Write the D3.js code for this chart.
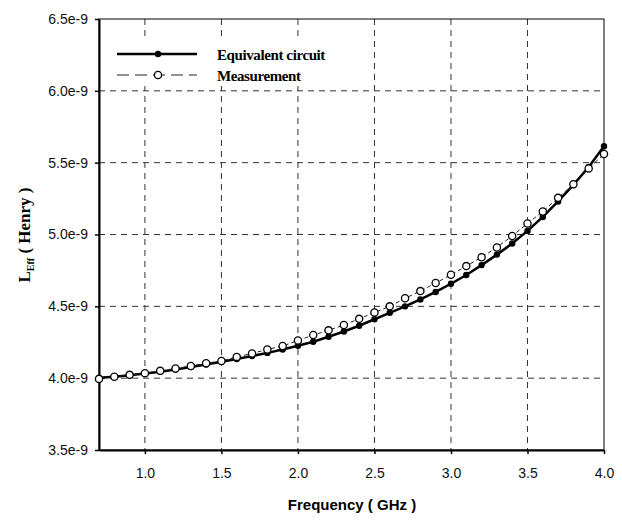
<!DOCTYPE html>
<html>
<head>
<meta charset="utf-8">
<script src="https://cdn.jsdelivr.net/npm/d3@7"></script>
<style>
  html, body { margin: 0; padding: 0; background: #fff; }
  svg { display: block; }
</style>
</head>
<body>
<svg id="chart" width="622" height="521"></svg>
<script>
// ---- data ----
const frequency = [0.7,0.8,0.9,1.0,1.1,1.2,1.3,1.4,1.5,1.6,1.7,1.8,1.9,2.0,2.1,2.2,2.3,2.4,2.5,2.6,2.7,2.8,2.9,3.0,3.1,3.2,3.3,3.4,3.5,3.6,3.7,3.8,3.9,4.0];
// values in units of 1e-9 H
const equivalentCircuit = [4.003,4.010,4.020,4.032,4.045,4.060,4.077,4.095,4.114,4.133,4.154,4.176,4.200,4.226,4.254,4.288,4.325,4.365,4.410,4.455,4.500,4.548,4.600,4.657,4.718,4.787,4.860,4.937,5.025,5.122,5.230,5.345,5.470,5.615];
const measurement = [3.995,4.010,4.023,4.035,4.051,4.067,4.085,4.104,4.120,4.148,4.172,4.200,4.224,4.262,4.300,4.333,4.370,4.413,4.457,4.500,4.556,4.606,4.662,4.720,4.780,4.842,4.910,4.990,5.077,5.160,5.255,5.350,5.460,5.560];
const xTicks = [1.0,1.5,2.0,2.5,3.0,3.5,4.0];
const yTicks = [3.5,4.0,4.5,5.0,5.5,6.0,6.5];
const yTickLabels = ["3.5e-9","4.0e-9","4.5e-9","5.0e-9","5.5e-9","6.0e-9","6.5e-9"];
const seriesNames = ["Equivalent circuit","Measurement"];

// ---- layout ----
const svg = d3.select("#chart");
const L = 99, R = 604, T = 19, B = 450;
const x = d3.scaleLinear().domain([0.7, 4.0]).range([L, R]);
const y = d3.scaleLinear().domain([3.5, 6.5]).range([B, T]);

// grid
const grid = svg.append("g");
grid.selectAll("line.v").data(xTicks.filter(d => d < 4.0)).join("line")
  .attr("x1", d => x(d)).attr("x2", d => x(d)).attr("y1", T).attr("y2", B)
  .attr("stroke", "#333").attr("stroke-width", 1).attr("stroke-dasharray", "6,5");
grid.selectAll("line.h").data(yTicks.filter(d => d > 3.5 && d < 6.5)).join("line")
  .attr("x1", L).attr("x2", R).attr("y1", d => y(d)).attr("y2", d => y(d))
  .attr("stroke", "#333").attr("stroke-width", 1).attr("stroke-dasharray", "6,5");

// frame
svg.append("rect").attr("x", L).attr("y", T).attr("width", R - L).attr("height", B - T)
  .attr("fill", "none").attr("stroke", "#000").attr("stroke-width", 1);

// axes
const xAxis = d3.axisBottom(x).tickValues(xTicks).tickFormat(d3.format(".1f")).tickSizeInner(4).tickSizeOuter(0);
const gx = svg.append("g").attr("transform", `translate(0,${B})`).call(xAxis);
gx.select(".domain").attr("stroke", "#000").attr("stroke-width", 2);
gx.selectAll(".tick line").attr("stroke", "#000").attr("stroke-width", 1.5);
gx.selectAll(".tick text").attr("font-family", "Liberation Sans, Arial, sans-serif")
  .attr("font-size", 14).attr("fill", "#111").attr("dy", "1.5em");

const yAxis = d3.axisLeft(y).tickValues(yTicks).tickFormat((d, i) => yTickLabels[i]).tickSizeInner(4).tickSizeOuter(0);
const gy = svg.append("g").attr("transform", `translate(${L},0)`).call(yAxis);
gy.select(".domain").attr("stroke", "#000").attr("stroke-width", 2);
gy.selectAll(".tick line").attr("stroke", "#000").attr("stroke-width", 1.5);
gy.selectAll(".tick text").attr("font-family", "Liberation Sans, Arial, sans-serif")
  .attr("font-size", 14).attr("fill", "#111").attr("x", -11);

// series
const line = d3.line().x((d, i) => x(frequency[i])).y(d => y(d));
svg.append("path").datum(equivalentCircuit).attr("d", line)
  .attr("fill", "none").attr("stroke", "#000").attr("stroke-width", 2.5);
svg.append("g").selectAll("circle").data(equivalentCircuit).join("circle")
  .attr("cx", (d, i) => x(frequency[i])).attr("cy", d => y(d)).attr("r", 3.2).attr("fill", "#000");

svg.append("path").datum(measurement).attr("d", line)
  .attr("fill", "none").attr("stroke", "#222").attr("stroke-width", 1).attr("stroke-dasharray", "4,3");
svg.append("g").selectAll("circle").data(measurement).join("circle")
  .attr("cx", (d, i) => x(frequency[i])).attr("cy", d => y(d)).attr("r", 3.6)
  .attr("fill", "#fff").attr("stroke", "#000").attr("stroke-width", 1.3);

// legend
const lg = svg.append("g");
lg.append("rect").attr("x", 108).attr("y", 40).attr("width", 232).attr("height", 46).attr("fill", "#fff");
lg.append("line").attr("x1", 117).attr("x2", 197).attr("y1", 54).attr("y2", 54)
  .attr("stroke", "#000").attr("stroke-width", 2.5);
lg.append("circle").attr("cx", 158).attr("cy", 54).attr("r", 3.2).attr("fill", "#000");
lg.append("line").attr("x1", 117).attr("x2", 197).attr("y1", 75).attr("y2", 75)
  .attr("stroke", "#222").attr("stroke-width", 1).attr("stroke-dasharray", "12,6");
lg.append("circle").attr("cx", 158).attr("cy", 75).attr("r", 3.6)
  .attr("fill", "#fff").attr("stroke", "#000").attr("stroke-width", 1.3);
lg.selectAll("text").data(seriesNames).join("text")
  .attr("x", 217).attr("y", (d, i) => 60 + i * 21)
  .attr("font-family", "Liberation Serif, Times New Roman, serif").attr("font-weight", "bold")
  .attr("font-size", 15).attr("letter-spacing", -0.4).attr("fill", "#000").text(d => d);

// axis titles
svg.append("text").attr("x", 352).attr("y", 510).attr("text-anchor", "middle")
  .attr("font-family", "Liberation Sans, Arial, sans-serif").attr("font-weight", "bold")
  .attr("font-size", 15).attr("fill", "#000").text("Frequency ( GHz )");

const yt = svg.append("text").attr("transform", "translate(30,235) rotate(-90)").attr("text-anchor", "middle")
  .attr("font-family", "Liberation Serif, Times New Roman, serif").attr("font-weight", "bold")
  .attr("font-size", 17).attr("fill", "#000");
yt.append("tspan").text("L");
yt.append("tspan").attr("font-size", 10).attr("dy", 4).text("Eff");
yt.append("tspan").attr("dy", -4).text(" ( Henry )");
</script>
</body>
</html>
